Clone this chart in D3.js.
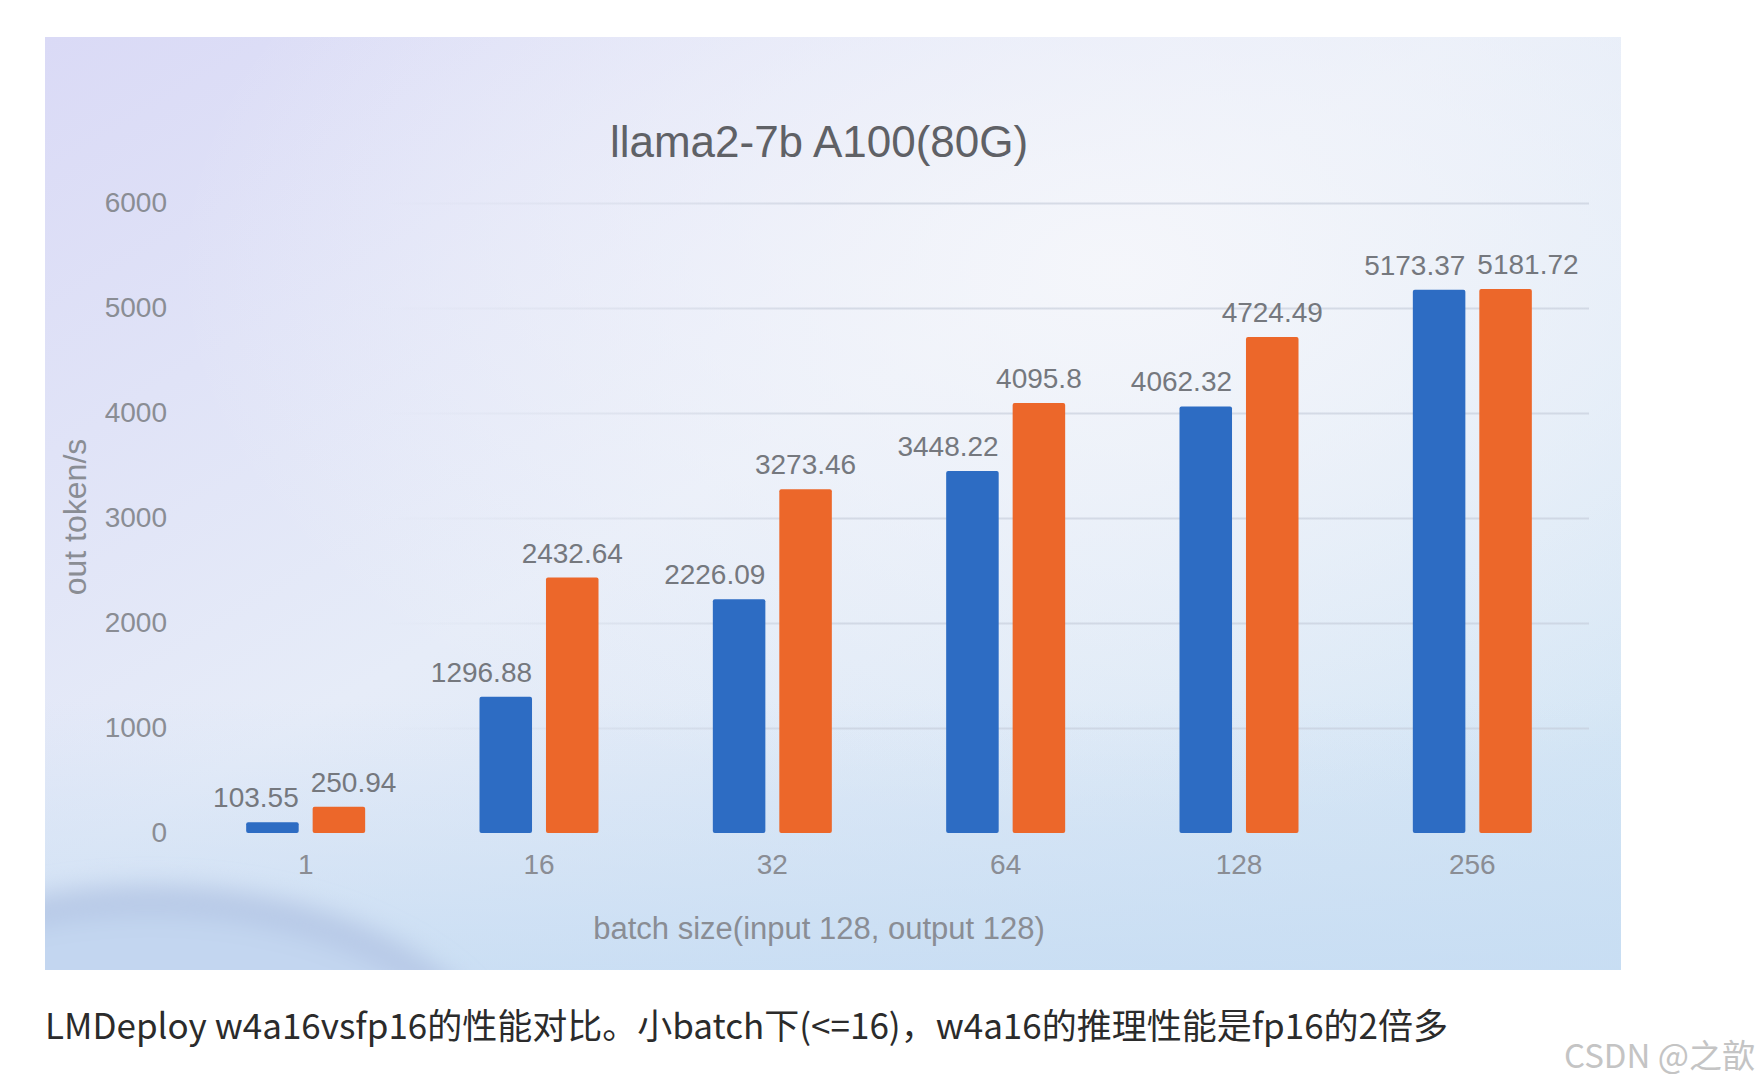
<!DOCTYPE html>
<html>
<head>
<meta charset="utf-8">
<script src="https://cdn.jsdelivr.net/npm/d3@7"></script>
<style>
  body { margin: 0; background: #fff; }
  svg { display: block; }
</style>
</head>
<body>
<script>
// batch sizes on the x axis
const categories = ["1", "16", "32", "64", "128", "256"];
// blue bars and orange bars (out token/s)
const blueValues = [103.55, 1296.88, 2226.09, 3448.22, 4062.32, 5173.37];
const orangeValues = [250.94, 2432.64, 3273.46, 4095.8, 4724.49, 5181.72];
const yTicks = [0, 1000, 2000, 3000, 4000, 5000, 6000];

const chartTitle = "llama2-7b A100(80G)";
const xTitle = "batch size(input 128, output 128)";
const yTitle = "out token/s";
const caption = "LMDeploy w4a16vsfp16的性能对比。小batch下(<=16)，w4a16的推理性能是fp16的2倍多";
const watermark = "CSDN @之歆";

const width = 1758, height = 1086;
const panel = { x: 45, y: 37, w: 1576, h: 933 };
const plot = { left: 189, right: 1589, top: 203, bottom: 833 };

const svg = d3.select("body").append("svg")
  .attr("width", width)
  .attr("height", height);

const defs = svg.append("defs");

// panel background gradients
const bg = defs.append("linearGradient").attr("id", "bg")
  .attr("x1", "0").attr("y1", "0").attr("x2", "1").attr("y2", "1");
bg.append("stop").attr("offset", "0").attr("stop-color", "#dadaf6");
bg.append("stop").attr("offset", "0.45").attr("stop-color", "#e6ecf8");
bg.append("stop").attr("offset", "1").attr("stop-color", "#cfe4f4");

const glow = defs.append("radialGradient").attr("id", "glow")
  .attr("cx", "0.68").attr("cy", "0.25").attr("r", "0.6");
glow.append("stop").attr("offset", "0").attr("stop-color", "#f6f7fb").attr("stop-opacity", 0.9);
glow.append("stop").attr("offset", "1").attr("stop-color", "#f6f7fb").attr("stop-opacity", 0);

const lowBlue = defs.append("linearGradient").attr("id", "lowBlue")
  .attr("x1", "0").attr("y1", "0").attr("x2", "0").attr("y2", "1");
lowBlue.append("stop").attr("offset", "0").attr("stop-color", "#c9dcf3").attr("stop-opacity", 0);
lowBlue.append("stop").attr("offset", "1").attr("stop-color", "#c6dcf3").attr("stop-opacity", 0.8);

const gridFade = defs.append("linearGradient").attr("id", "gridFade")
  .attr("gradientUnits", "userSpaceOnUse")
  .attr("x1", plot.left).attr("x2", 650).attr("y1", 0).attr("y2", 0);
gridFade.append("stop").attr("offset", "0").attr("stop-color", "#c3cad8").attr("stop-opacity", 0);
gridFade.append("stop").attr("offset", "1").attr("stop-color", "#c3cad8").attr("stop-opacity", 0.6);

defs.append("filter").attr("id", "blur")
  .attr("x", "-20%").attr("y", "-20%").attr("width", "140%").attr("height", "140%")
  .append("feGaussianBlur").attr("stdDeviation", 12);

defs.append("clipPath").attr("id", "panelClip")
  .append("rect")
  .attr("x", panel.x).attr("y", panel.y)
  .attr("width", panel.w).attr("height", panel.h);

const back = svg.append("g").attr("clip-path", "url(#panelClip)");
back.append("rect")
  .attr("x", panel.x).attr("y", panel.y)
  .attr("width", panel.w).attr("height", panel.h)
  .attr("fill", "url(#bg)");
back.append("rect")
  .attr("x", panel.x).attr("y", panel.y)
  .attr("width", panel.w).attr("height", panel.h)
  .attr("fill", "url(#glow)");
back.append("rect")
  .attr("x", panel.x).attr("y", 700)
  .attr("width", panel.w).attr("height", 270)
  .attr("fill", "url(#lowBlue)");
// swoosh in the lower left corner
back.append("ellipse")
  .attr("cx", 150).attr("cy", 1100).attr("rx", 350).attr("ry", 200)
  .attr("fill", "#c3d6f0")
  .attr("stroke", "#b3c4e4")
  .attr("stroke-width", 30)
  .attr("stroke-opacity", 0.8)
  .attr("filter", "url(#blur)");

// scales
const x0 = d3.scaleBand()
  .domain(categories)
  .range([plot.left, plot.right])
  .paddingInner(0.49)
  .paddingOuter(0.245);

const x1 = d3.scaleBand()
  .domain(["blue", "orange"])
  .range([0, x0.bandwidth()])
  .paddingInner(0.21);

const y = d3.scaleLinear()
  .domain([0, 6000])
  .range([plot.bottom, plot.top]);

// gridlines
const grid = svg.append("g")
  .attr("transform", `translate(${plot.left},0)`)
  .call(d3.axisLeft(y).tickValues(yTicks.filter(d => d > 0))
    .tickSize(-(plot.right - plot.left)).tickFormat(""));
grid.select(".domain").remove();
grid.selectAll(".tick line")
  .attr("stroke", "url(#gridFade)")
  .attr("stroke-width", 2);

// y axis labels
const yAxis = svg.append("g")
  .attr("transform", `translate(${plot.left},0)`)
  .call(d3.axisLeft(y).tickValues(yTicks).tickFormat(d3.format("d"))
    .tickSize(0).tickPadding(22));
yAxis.select(".domain").remove();
yAxis.selectAll("text")
  .attr("font-family", "Liberation Sans, Arial, sans-serif")
  .attr("font-size", 28)
  .attr("fill", "#8a8d94");

// x axis labels
const xAxis = svg.append("g")
  .attr("transform", `translate(0,${plot.bottom})`)
  .call(d3.axisBottom(x0).tickSize(0).tickPadding(21));
xAxis.select(".domain").remove();
xAxis.selectAll("text")
  .attr("font-family", "Liberation Sans, Arial, sans-serif")
  .attr("font-size", 28)
  .attr("fill", "#8a8d94");

const rows = categories.map((c, i) => ({
  cat: c,
  blue: blueValues[i],
  orange: orangeValues[i]
}));

const colors = { blue: "#2d6cc3", orange: "#ec672a" };

const groups = svg.selectAll("g.group")
  .data(rows)
  .enter().append("g")
  .attr("class", "group")
  .attr("transform", d => `translate(${x0(d.cat)},0)`);

groups.selectAll("rect")
  .data(d => ["blue", "orange"].map(k => ({ key: k, value: d[k] })))
  .enter().append("rect")
  .attr("x", d => x1(d.key))
  .attr("y", d => y(d.value))
  .attr("width", x1.bandwidth())
  .attr("height", d => y(0) - y(d.value))
  .attr("rx", 2)
  .attr("fill", d => colors[d.key]);

// value labels: blue ones end at the bar's right edge, orange ones are centred
// and pushed right when they would run into the blue label
const labelFont = "Liberation Sans, Arial, sans-serif";
groups.each(function(d) {
  const g = d3.select(this);
  const bx = x1("blue"), ox = x1("orange"), bw = x1.bandwidth();
  g.append("text")
    .attr("x", bx + bw)
    .attr("y", y(d.blue) - 15)
    .attr("text-anchor", "end")
    .attr("font-family", labelFont)
    .attr("font-size", 28)
    .attr("fill", "#75787e")
    .text(d.blue);
  const orangeLabel = g.append("text")
    .attr("x", ox + bw / 2)
    .attr("y", y(d.orange) - 15)
    .attr("text-anchor", "middle")
    .attr("font-family", labelFont)
    .attr("font-size", 28)
    .attr("fill", "#75787e")
    .text(d.orange);
  const ow = orangeLabel.node().getComputedTextLength();
  const overlapY = Math.abs(y(d.blue) - y(d.orange)) < 24;
  if (overlapY && ox + bw / 2 - ow / 2 < bx + bw + 12) {
    orangeLabel.attr("text-anchor", "start").attr("x", bx + bw + 12);
  }
});

// titles
svg.append("text")
  .attr("x", 819).attr("y", 157)
  .attr("text-anchor", "middle")
  .attr("font-family", "Liberation Sans, Arial, sans-serif")
  .attr("font-size", 44)
  .attr("fill", "#5f6166")
  .text(chartTitle);

svg.append("text")
  .attr("x", 819).attr("y", 939)
  .attr("text-anchor", "middle")
  .attr("font-family", "Liberation Sans, Arial, sans-serif")
  .attr("font-size", 31)
  .attr("fill", "#8a8d94")
  .text(xTitle);

svg.append("text")
  .attr("transform", "translate(86,517) rotate(-90)")
  .attr("text-anchor", "middle")
  .attr("font-family", "Liberation Sans, Arial, sans-serif")
  .attr("font-size", 32)
  .attr("fill", "#8a8d94")
  .text(yTitle);

// caption under the picture
svg.append("text")
  .attr("x", 45).attr("y", 1039)
  .attr("font-family", "Noto Sans CJK SC, Noto Sans, sans-serif")
  .attr("font-size", 35)
  .attr("fill", "#2b2b2b")
  .text(caption);

svg.append("text")
  .attr("x", 1755).attr("y", 1068)
  .attr("text-anchor", "end")
  .attr("font-family", "Noto Sans CJK SC, Noto Sans, sans-serif")
  .attr("font-size", 33)
  .attr("fill", "#c4c4c4")
  .text(watermark);
</script>
</body>
</html>
